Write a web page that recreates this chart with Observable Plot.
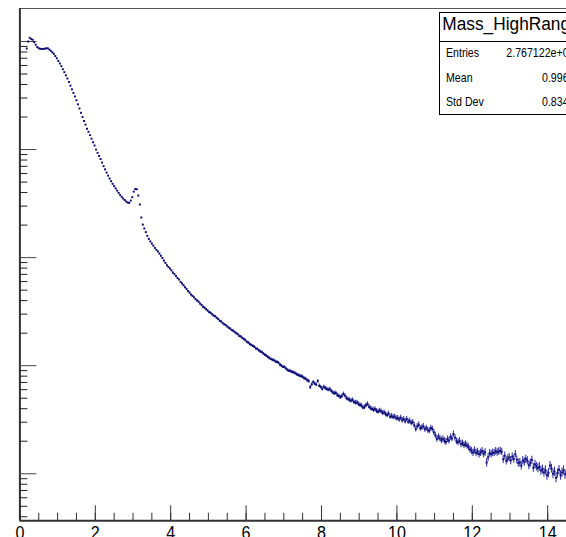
<!DOCTYPE html>
<html>
<head>
<meta charset="utf-8">
<script src="https://cdn.jsdelivr.net/npm/d3@7"></script>
<script src="https://cdn.jsdelivr.net/npm/@observablehq/plot@0.6"></script>
<style>
  html, body { margin: 0; padding: 0; background: #fff; overflow: hidden; width: 566px; height: 537px; }
  #chart { position: relative; width: 566px; height: 537px; overflow: hidden; }
  #chart svg { display: block; max-width: none !important; width: 620px !important; height: 537px !important; }
</style>
</head>
<body>
<div id="chart"></div>
<script>
// Histogram "Mass_HighRange": fixed-width bins, counts per bin (log scale)
const binWidth = 0.04;
const firstBinCenter = 0.18;
const binCounts = [
  861000, 1000000, 1082000, 1055000, 1037000, 985000, 934000, 889000, 865000, 856000,
  852000, 854000, 858000, 865000, 865000, 843000, 820000, 794000, 769000, 734000,
  699000, 660000, 626000, 591000, 554000, 520000, 486000, 454000, 422000, 390000,
  361000, 334000, 310000, 286000, 262000, 240000, 219000, 200000, 184000, 170000,
  156000, 146000, 136000, 126000, 117000, 109000, 100000, 93200, 87200, 81800,
  75800, 70200, 65600, 61200, 57400, 53900, 50900, 48200, 45900, 43700,
  41700, 39700, 37900, 36500, 35200, 34100, 33000, 32300, 32100, 33700,
  36300, 40800, 43100, 42900, 37500, 31000, 23500, 20200, 18600, 17200,
  15900, 14900, 14100, 13500, 12900, 12300, 11800, 11400, 10900, 10400,
  9890, 9380, 8930, 8490, 8200, 7910, 7610,
  7260, 7020, 6740, 6470, 6260, 5960, 5770, 5550, 5320, 5130,
  4900, 4740, 4540, 4420, 4280, 4120, 4000, 3900, 3750, 3640,
  3500, 3430, 3320, 3230, 3130, 3080, 2980, 2900, 2860, 2770,
  2700, 2600, 2560, 2470, 2410, 2370, 2300, 2240, 2200, 2130,
  2100, 2040, 1990, 1950, 1880, 1860, 1800, 1760, 1720, 1660,
  1630, 1580, 1550, 1520, 1490, 1440, 1420, 1380, 1350, 1330,
  1290, 1260, 1230, 1200, 1170, 1150,
  1130, 1120, 1090, 1080, 1060, 1020, 994, 975, 968, 938,
  908, 895, 888, 874, 865, 852, 833, 820, 805, 799,
  786, 764, 755, 732, 719, 632, 670, 704, 681, 667,
  719, 650, 635, 609, 636, 619, 609, 597, 606, 582,
  565, 554, 559, 533, 524, 509, 522, 547, 528, 502,
  491, 482, 474, 482, 461, 454, 457, 441, 434, 426,
  410, 413, 431, 442, 417, 404, 398, 389, 396, 381,
  375, 385, 378, 365, 369, 356, 348, 359, 337, 342,
  334, 339, 326, 328, 318, 330, 313, 321, 306, 321,
  303, 308, 295, 300, 281, 259, 275, 284, 264, 268,
  275, 258, 265, 253, 250, 265, 259, 242, 227, 210,
  220, 212, 204, 210, 202, 197, 209, 203, 219, 212,
  233, 216, 200, 196, 202, 188, 192, 184, 188, 182,
  176, 168, 163, 157, 165, 156, 160, 152, 157, 162,
  153, 158, 127, 142, 155, 152, 157, 156, 162, 158,
  161, 163, 160, 136, 147, 132, 138, 142, 133, 144,
  137, 152, 135, 126, 127, 119, 133, 129, 137, 132,
  120, 126, 134, 114, 122, 117, 113, 116, 107, 110,
  103, 108, 97, 102, 119, 112, 100, 105, 92, 101,
  109, 97, 103, 108, 99, 104, 98, 107, 102, 99
];

// Axis ranges and tick values
const xDomain = [0, 15];
const yDomain = [36.7, 2.02e6];
const xMajorTicks = [0, 2, 4, 6, 8, 10, 12, 14];
const xMinorTicks = d3.range(0, 15.001, 0.5);
const yMajorTicks = [100, 1e3, 1e4, 1e5, 1e6];
const yMinorTicks = [40, 50, 60, 70, 80, 90]
  .concat(...[100, 1e3, 1e4, 1e5].map(p => [2, 3, 4, 5, 6, 7, 8, 9].map(m => m * p)));

// Statistics box content
const statsTitle = "Mass_HighRange";
const statsLabels = ["Entries", "Mean", "Std Dev"];
const statsValues = ["2.767122e+07", "0.9963", "0.8347"];

const bins = binCounts.map((n, i) => ({
  x: firstBinCenter + i * binWidth,
  n,
  lo: n - Math.sqrt(n),
  hi: n + Math.sqrt(n)
}));

const sans = '"Liberation Sans", Arial, Helvetica, sans-serif';
const condense = 0.85; // horizontal squeeze giving a narrow Helvetica look
const W = 620, H = 537;
const mLeft = 19.4, pxPerUnit = 37.7;

const chart = Plot.plot({
  width: W,
  height: H,
  marginLeft: mLeft,
  marginRight: W - mLeft - pxPerUnit * (xDomain[1] - xDomain[0]),
  marginTop: 8,
  marginBottom: H - 520.3,
  style: { background: "#fff", fontFamily: sans, color: "#000", maxWidth: "none" },
  x: { domain: xDomain, label: null },
  y: { type: "log", domain: yDomain, label: null },
  marks: [
    // frame: top line, left and bottom axis lines
    Plot.ruleY([yDomain[1]], { stroke: "#555", strokeWidth: 1 }),
    Plot.ruleX([xDomain[0]], { stroke: "#333", strokeWidth: 2 }),
    Plot.ruleY([yDomain[0]], { stroke: "#333", strokeWidth: 2 }),
    // x ticks (pointing into the frame)
    Plot.axisX(xMinorTicks, { anchor: "bottom", tickSize: -7.5, tickFormat: () => "", stroke: "#333", label: null }),
    Plot.axisX(xMajorTicks, { anchor: "bottom", tickSize: -15, tickFormat: () => "", stroke: "#333", label: null }),
    Plot.axisX(xMajorTicks, { anchor: "bottom", tickSize: 0, tickPadding: 5, fontSize: 19, fill: "#000", label: null }),
    // y ticks (labels lie outside the visible area)
    Plot.axisY(yMinorTicks, { anchor: "left", tickSize: -8, tickFormat: () => "", stroke: "#222", label: null }),
    Plot.axisY(yMajorTicks, { anchor: "left", tickSize: -17, tickFormat: () => "", stroke: "#444", label: null }),
    // data: statistical error bars and markers
    Plot.ruleX(bins, { x: "x", y1: "lo", y2: "hi", stroke: "#3838aa", strokeWidth: 1.1 }),
    Plot.dot(bins, { x: "x", y: "n", r: 1.1, fill: "#0c0c70", stroke: null, symbol: "square" })
  ]
});

document.getElementById("chart").appendChild(chart);

const svg = d3.select(chart);

// narrow the x tick labels
svg.selectAll("text").filter(function () { return /^\d+$/.test(this.textContent); }).each(function () {
  const t = this.getAttribute("transform") || "";
  if (!/scale/.test(t)) this.setAttribute("transform", t + ` scale(${condense},1)`);
});

// Statistics box drawn on top of the plot frame
const box = { x: 439.5, y: 12.5, w: 143, h: 102, titleH: 29 };
const valueRight = 574.5;
const g = svg.append("g").attr("font-family", sans).attr("text-anchor", "start");
g.append("rect")
  .attr("x", box.x).attr("y", box.y).attr("width", box.w).attr("height", box.h)
  .attr("fill", "#fff").attr("stroke", "#000").attr("stroke-width", 1);
g.append("line")
  .attr("x1", box.x).attr("x2", box.x + box.w)
  .attr("y1", box.y + box.titleH).attr("y2", box.y + box.titleH)
  .attr("stroke", "#000").attr("stroke-width", 1);
g.append("text")
  .attr("transform", `translate(${box.x + box.w / 2},30) scale(0.91,1)`)
  .attr("text-anchor", "middle").attr("font-size", 19).attr("fill", "#000")
  .text(statsTitle);
const rowH = (box.h - box.titleH) / statsLabels.length;
statsLabels.forEach((lab, i) => {
  const base = box.y + box.titleH + rowH * i + rowH / 2 + 3.6;
  g.append("text")
    .attr("transform", `translate(446,${base}) scale(${condense},1)`)
    .attr("text-anchor", "start").attr("font-size", 12.5).attr("fill", "#000").text(lab);
  g.append("text")
    .attr("transform", `translate(${valueRight},${base}) scale(${condense},1)`)
    .attr("text-anchor", "end").attr("font-size", 12.5).attr("fill", "#000").text(statsValues[i]);
});
</script>
</body>
</html>
